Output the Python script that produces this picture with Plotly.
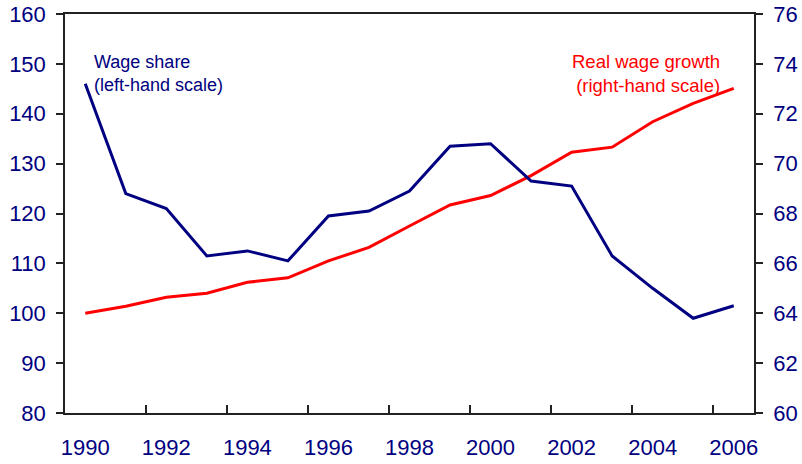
import plotly.graph_objects as go

# years, one point per year
years = list(range(1990, 2007))

# wage share, right-hand axis (per cent)
wage_share = [73.2, 68.8, 68.2, 66.3, 66.5, 66.1, 67.9, 68.1, 68.9, 70.7,
              70.8, 69.3, 69.1, 66.3, 65.0, 63.8, 64.3]

# real wage index, left-hand axis (1990 = 100)
real_wage = [100.0, 101.4, 103.2, 104.0, 106.2, 107.1, 110.5, 113.2, 117.5,
             121.7, 123.6, 127.6, 132.3, 133.3, 138.4, 142.1, 145.1]

label_years = list(range(1990, 2007, 2))
tick_marks = [y + 1.5 for y in range(1990, 2005, 2)]

NAVY = "#000080"
FONT = "Arial, Liberation Sans, sans-serif"

fig = go.Figure()
fig.add_trace(go.Scatter(x=years, y=real_wage, mode="lines",
                         line=dict(color="#FF0000", width=3),
                         name="Real wage growth"))
fig.add_trace(go.Scatter(x=years, y=wage_share, mode="lines", yaxis="y2",
                         line=dict(color=NAVY, width=3),
                         name="Wage share"))

fig.add_annotation(text="Wage share<br>(left-hand scale)", xref="paper", yref="paper",
                   x=0.0395, y=0.851, xanchor="left", yanchor="middle", align="left",
                   showarrow=False, font=dict(family=FONT, size=18, color=NAVY))
fig.add_annotation(text="Real wage growth<br>(right-hand scale)", xref="paper", yref="paper",
                   x=0.953, y=0.851, xanchor="right", yanchor="middle", align="right",
                   showarrow=False, font=dict(family=FONT, size=18.5, color="#FF0000"))

fig.update_layout(
    width=802, height=464,
    margin=dict(l=65, r=48, t=14, b=51),
    paper_bgcolor="white", plot_bgcolor="white",
    showlegend=False,
    font=dict(family=FONT, size=22, color=NAVY),
    xaxis=dict(range=[1989.5, 2006.5], tickmode="array", tickvals=label_years,
               ticks="", showgrid=False, zeroline=False, automargin=False,
               showline=True, linecolor="#222222", linewidth=1.5, mirror=True,
               ticklabelstandoff=14,
               minor=dict(tickmode="array", tickvals=tick_marks, ticks="inside",
                          ticklen=8, tickcolor="#222222", tickwidth=1.5, showgrid=False)),
    yaxis=dict(range=[80, 160], dtick=10, ticks="outside", ticklen=7,
               tickcolor="#222222", tickwidth=1.5, showgrid=False, zeroline=False,
               showline=True, linecolor="#222222", linewidth=1.5, automargin=False,
               ticklabelstandoff=6),
    yaxis2=dict(range=[60, 76], dtick=2, overlaying="y", side="right",
                ticks="outside", ticklen=7, tickcolor="#222222", tickwidth=1.5,
                showgrid=False, zeroline=False, automargin=False,
                showline=True, linecolor="#222222", linewidth=1.5,
                ticklabelstandoff=6),
)

# page margin off so the figure sits at the window's top-left corner
fig.write_html("out.html", config={"displayModeBar": False},
               post_script="document.body.style.margin='0';")
